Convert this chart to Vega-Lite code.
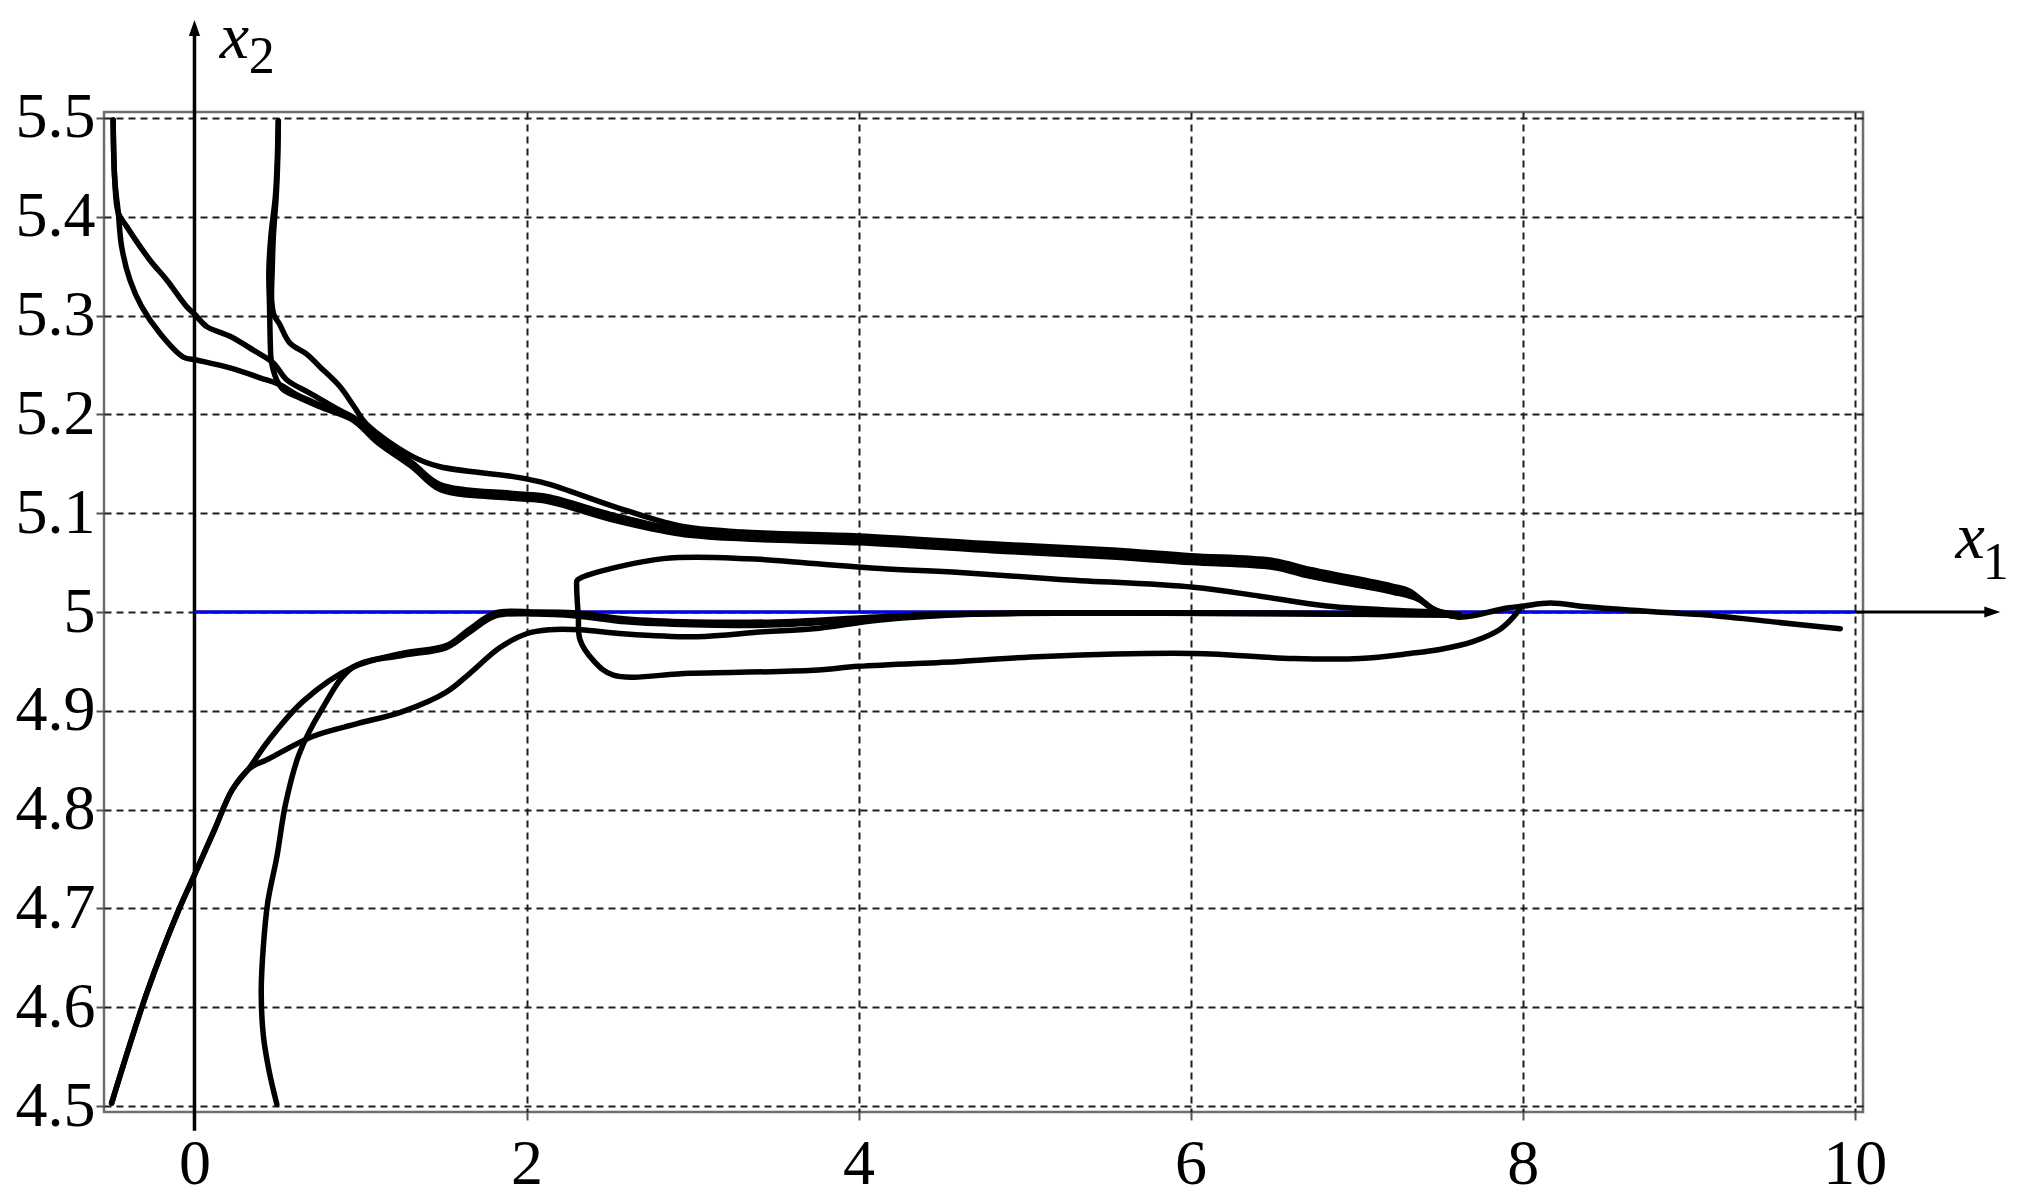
{
  "$schema": "https://vega.github.io/schema/vega-lite/v6.json",
  "width": 1759,
  "height": 1000,
  "autosize": {"type": "none"},
  "padding": {"left": 104, "top": 112, "right": 156, "bottom": 88},
  "background": "white",
  "config": {
    "view": {"stroke": "#6e6e6e", "strokeWidth": 2.5},
    "axis": {"title": null}
  },
  "datasets": {
    "curves": [
      {"id":"T1a","o":1,"x":-0.49,"y":5.498},{"id":"T1a","o":2,"x":-0.48,"y":5.437},{"id":"T1a","o":3,"x":-0.459,"y":5.404},{"id":"T1a","o":4,"x":-0.408,"y":5.39},{"id":"T1a","o":5,"x":-0.268,"y":5.356},{"id":"T1a","o":6,"x":-0.167,"y":5.336},{"id":"T1a","o":7,"x":-0.047,"y":5.309},{"id":"T1a","o":8,"x":0.003,"y":5.301},{"id":"T1a","o":9,"x":0.073,"y":5.289},{"id":"T1a","o":10,"x":0.214,"y":5.279},{"id":"T1a","o":11,"x":0.354,"y":5.265},{"id":"T1a","o":12,"x":0.475,"y":5.252},{"id":"T1a","o":13,"x":0.555,"y":5.235},{"id":"T1a","o":14,"x":0.7,"y":5.221},{"id":"T1a","o":15,"x":0.877,"y":5.204},{"id":"T1a","o":16,"x":0.957,"y":5.197},{"id":"T1a","o":17,"x":1.1,"y":5.177},{"id":"T1a","o":18,"x":1.318,"y":5.15},{"id":"T1a","o":19,"x":1.479,"y":5.129},{"id":"T1a","o":20,"x":1.92,"y":5.12},{"id":"T1a","o":21,"x":2.122,"y":5.117},{"id":"T1a","o":22,"x":2.523,"y":5.098},{"id":"T1a","o":23,"x":2.925,"y":5.083},{"id":"T1a","o":24,"x":3.3,"y":5.078},{"id":"T1a","o":25,"x":4.0,"y":5.074},{"id":"T1a","o":26,"x":4.8,"y":5.066},{"id":"T1a","o":27,"x":5.5,"y":5.06},{"id":"T1a","o":28,"x":6.0,"y":5.054},{"id":"T1a","o":29,"x":6.5,"y":5.049},{"id":"T1a","o":30,"x":6.72,"y":5.04},{"id":"T1a","o":31,"x":7.22,"y":5.023},{"id":"T1a","o":32,"x":7.34,"y":5.018},{"id":"T1a","o":33,"x":7.47,"y":5.002},{"id":"T1a","o":34,"x":7.62,"y":4.995},{"id":"T1a","o":35,"x":7.905,"y":5.004},{"id":"T1a","o":36,"x":8.005,"y":5.006},{"id":"T1a","o":37,"x":8.166,"y":5.009},{"id":"T1a","o":38,"x":8.407,"y":5.005},{"id":"T1a","o":39,"x":8.808,"y":5.0},{"id":"T1a","o":40,"x":9.11,"y":4.997},{"id":"T1a","o":41,"x":9.51,"y":4.99},{"id":"T1a","o":42,"x":9.913,"y":4.983},

      {"id":"T1b","o":1,"x":-0.49,"y":5.498},{"id":"T1b","o":2,"x":-0.48,"y":5.437},{"id":"T1b","o":3,"x":-0.459,"y":5.404},{"id":"T1b","o":4,"x":-0.439,"y":5.37},{"id":"T1b","o":5,"x":-0.389,"y":5.336},{"id":"T1b","o":6,"x":-0.318,"y":5.309},{"id":"T1b","o":7,"x":-0.208,"y":5.282},{"id":"T1b","o":8,"x":-0.067,"y":5.258},{"id":"T1b","o":9,"x":0.013,"y":5.255},{"id":"T1b","o":10,"x":0.214,"y":5.247},{"id":"T1b","o":11,"x":0.395,"y":5.237},{"id":"T1b","o":12,"x":0.515,"y":5.23},{"id":"T1b","o":13,"x":0.616,"y":5.22},{"id":"T1b","o":14,"x":0.877,"y":5.201},{"id":"T1b","o":15,"x":0.957,"y":5.195},{"id":"T1b","o":16,"x":1.1,"y":5.174},{"id":"T1b","o":17,"x":1.318,"y":5.147},{"id":"T1b","o":18,"x":1.479,"y":5.126},{"id":"T1b","o":19,"x":1.92,"y":5.117},{"id":"T1b","o":20,"x":2.122,"y":5.114},{"id":"T1b","o":21,"x":2.523,"y":5.095},{"id":"T1b","o":22,"x":2.925,"y":5.08},{"id":"T1b","o":23,"x":3.3,"y":5.075},{"id":"T1b","o":24,"x":4.0,"y":5.071},{"id":"T1b","o":25,"x":4.8,"y":5.063},{"id":"T1b","o":26,"x":5.5,"y":5.057},{"id":"T1b","o":27,"x":6.0,"y":5.051},{"id":"T1b","o":28,"x":6.5,"y":5.046},{"id":"T1b","o":29,"x":6.72,"y":5.037},{"id":"T1b","o":30,"x":7.22,"y":5.021},{"id":"T1b","o":31,"x":7.36,"y":5.015},{"id":"T1b","o":32,"x":7.49,"y":5.0},{"id":"T1b","o":33,"x":7.62,"y":4.995},

      {"id":"T2a","o":1,"x":0.505,"y":5.497},{"id":"T2a","o":2,"x":0.497,"y":5.45},{"id":"T2a","o":3,"x":0.487,"y":5.42},{"id":"T2a","o":4,"x":0.46,"y":5.38},{"id":"T2a","o":5,"x":0.448,"y":5.345},{"id":"T2a","o":6,"x":0.452,"y":5.31},{"id":"T2a","o":7,"x":0.457,"y":5.27},{"id":"T2a","o":8,"x":0.462,"y":5.255},{"id":"T2a","o":9,"x":0.495,"y":5.235},{"id":"T2a","o":10,"x":0.535,"y":5.225},{"id":"T2a","o":11,"x":0.616,"y":5.218},{"id":"T2a","o":12,"x":0.75,"y":5.208},{"id":"T2a","o":13,"x":0.957,"y":5.194},{"id":"T2a","o":14,"x":1.1,"y":5.172},{"id":"T2a","o":15,"x":1.318,"y":5.146},{"id":"T2a","o":16,"x":1.479,"y":5.124},{"id":"T2a","o":17,"x":1.92,"y":5.115},{"id":"T2a","o":18,"x":2.122,"y":5.112},{"id":"T2a","o":19,"x":2.523,"y":5.093},{"id":"T2a","o":20,"x":2.925,"y":5.079},{"id":"T2a","o":21,"x":3.3,"y":5.074},{"id":"T2a","o":22,"x":4.0,"y":5.07},{"id":"T2a","o":23,"x":4.8,"y":5.062},{"id":"T2a","o":24,"x":5.5,"y":5.056},{"id":"T2a","o":25,"x":6.0,"y":5.05},{"id":"T2a","o":26,"x":6.5,"y":5.045},{"id":"T2a","o":27,"x":6.72,"y":5.036},{"id":"T2a","o":28,"x":7.22,"y":5.02},{"id":"T2a","o":29,"x":7.37,"y":5.013},{"id":"T2a","o":30,"x":7.5,"y":4.999},{"id":"T2a","o":31,"x":7.62,"y":4.995},

      {"id":"T2b","o":1,"x":0.505,"y":5.497},{"id":"T2b","o":2,"x":0.5,"y":5.45},{"id":"T2b","o":3,"x":0.492,"y":5.42},{"id":"T2b","o":4,"x":0.475,"y":5.38},{"id":"T2b","o":5,"x":0.468,"y":5.345},{"id":"T2b","o":6,"x":0.465,"y":5.315},{"id":"T2b","o":7,"x":0.48,"y":5.3},{"id":"T2b","o":8,"x":0.51,"y":5.292},{"id":"T2b","o":9,"x":0.575,"y":5.272},{"id":"T2b","o":10,"x":0.676,"y":5.261},{"id":"T2b","o":11,"x":0.756,"y":5.248},{"id":"T2b","o":12,"x":0.877,"y":5.228},{"id":"T2b","o":13,"x":0.957,"y":5.209},{"id":"T2b","o":14,"x":1.037,"y":5.19},{"id":"T2b","o":15,"x":1.318,"y":5.157},{"id":"T2b","o":16,"x":1.479,"y":5.147},{"id":"T2b","o":17,"x":1.92,"y":5.137},{"id":"T2b","o":18,"x":2.122,"y":5.13},{"id":"T2b","o":19,"x":2.523,"y":5.107},{"id":"T2b","o":20,"x":2.925,"y":5.087},{"id":"T2b","o":21,"x":3.3,"y":5.081},{"id":"T2b","o":22,"x":4.0,"y":5.077},{"id":"T2b","o":23,"x":4.8,"y":5.069},{"id":"T2b","o":24,"x":5.5,"y":5.063},{"id":"T2b","o":25,"x":6.0,"y":5.057},{"id":"T2b","o":26,"x":6.5,"y":5.052},{"id":"T2b","o":27,"x":6.72,"y":5.043},{"id":"T2b","o":28,"x":7.22,"y":5.026},{"id":"T2b","o":29,"x":7.32,"y":5.021},{"id":"T2b","o":30,"x":7.45,"y":5.004},{"id":"T2b","o":31,"x":7.62,"y":4.995},

      {"id":"L","o":1,"x":7.985,"y":5.004},{"id":"L","o":2,"x":7.945,"y":4.995},{"id":"L","o":3,"x":7.86,"y":4.982},{"id":"L","o":4,"x":7.7,"y":4.97},{"id":"L","o":5,"x":7.5,"y":4.962},{"id":"L","o":6,"x":7.322,"y":4.958},{"id":"L","o":7,"x":7.021,"y":4.953},{"id":"L","o":8,"x":6.619,"y":4.953},{"id":"L","o":9,"x":6.017,"y":4.958},{"id":"L","o":10,"x":5.113,"y":4.955},{"id":"L","o":11,"x":4.611,"y":4.95},{"id":"L","o":12,"x":4.0,"y":4.945},{"id":"L","o":13,"x":3.728,"y":4.941},{"id":"L","o":14,"x":2.985,"y":4.938},{"id":"L","o":15,"x":2.523,"y":4.936},{"id":"L","o":16,"x":2.402,"y":4.951},{"id":"L","o":17,"x":2.322,"y":4.972},{"id":"L","o":18,"x":2.312,"y":4.995},{"id":"L","o":19,"x":2.302,"y":5.026},{"id":"L","o":20,"x":2.305,"y":5.032},{"id":"L","o":21,"x":2.363,"y":5.037},{"id":"L","o":22,"x":2.824,"y":5.054},{"id":"L","o":23,"x":3.327,"y":5.054},{"id":"L","o":24,"x":3.728,"y":5.049},{"id":"L","o":25,"x":4.13,"y":5.044},{"id":"L","o":26,"x":4.611,"y":5.04},{"id":"L","o":27,"x":5.214,"y":5.033},{"id":"L","o":28,"x":6.017,"y":5.025},{"id":"L","o":29,"x":6.418,"y":5.016},{"id":"L","o":30,"x":6.82,"y":5.006},{"id":"L","o":31,"x":7.32,"y":5.001},{"id":"L","o":32,"x":7.5,"y":5.0},{"id":"L","o":33,"x":7.62,"y":4.997},

      {"id":"Clow","o":1,"x":-0.499,"y":4.503},{"id":"Clow","o":2,"x":-0.284,"y":4.616},{"id":"Clow","o":3,"x":-0.096,"y":4.698},{"id":"Clow","o":4,"x":0.0,"y":4.734},{"id":"Clow","o":5,"x":0.119,"y":4.779},{"id":"Clow","o":6,"x":0.227,"y":4.82},{"id":"Clow","o":7,"x":0.334,"y":4.842},{"id":"Clow","o":8,"x":0.442,"y":4.851},{"id":"Clow","o":9,"x":0.711,"y":4.874},{"id":"Clow","o":10,"x":0.98,"y":4.887},{"id":"Clow","o":11,"x":1.249,"y":4.899},{"id":"Clow","o":12,"x":1.517,"y":4.919},{"id":"Clow","o":13,"x":1.652,"y":4.937},{"id":"Clow","o":14,"x":1.84,"y":4.964},{"id":"Clow","o":15,"x":2.0,"y":4.978},{"id":"Clow","o":16,"x":2.136,"y":4.982},{"id":"Clow","o":17,"x":2.325,"y":4.982},{"id":"Clow","o":18,"x":2.584,"y":4.978},{"id":"Clow","o":19,"x":3.025,"y":4.975},{"id":"Clow","o":20,"x":3.427,"y":4.98},{"id":"Clow","o":21,"x":3.728,"y":4.983},{"id":"Clow","o":22,"x":4.13,"y":4.992},{"id":"Clow","o":23,"x":4.732,"y":4.998},{"id":"Clow","o":24,"x":5.5,"y":4.999},{"id":"Clow","o":25,"x":6.5,"y":4.999},{"id":"Clow","o":26,"x":7.62,"y":4.997},

      {"id":"Cup","o":1,"x":-0.499,"y":4.503},{"id":"Cup","o":2,"x":-0.284,"y":4.616},{"id":"Cup","o":3,"x":-0.096,"y":4.698},{"id":"Cup","o":4,"x":0.0,"y":4.734},{"id":"Cup","o":5,"x":0.119,"y":4.779},{"id":"Cup","o":6,"x":0.227,"y":4.82},{"id":"Cup","o":7,"x":0.334,"y":4.843},{"id":"Cup","o":8,"x":0.442,"y":4.869},{"id":"Cup","o":9,"x":0.657,"y":4.91},{"id":"Cup","o":10,"x":0.953,"y":4.944},{"id":"Cup","o":11,"x":1.249,"y":4.958},{"id":"Cup","o":12,"x":1.517,"y":4.966},{"id":"Cup","o":13,"x":1.652,"y":4.982},{"id":"Cup","o":14,"x":1.813,"y":4.999},{"id":"Cup","o":15,"x":2.055,"y":5.0},{"id":"Cup","o":16,"x":2.3,"y":4.999},{"id":"Cup","o":17,"x":2.6,"y":4.993},{"id":"Cup","o":18,"x":3.0,"y":4.99},{"id":"Cup","o":19,"x":3.5,"y":4.99},{"id":"Cup","o":20,"x":4.0,"y":4.994},{"id":"Cup","o":21,"x":4.5,"y":4.998},{"id":"Cup","o":22,"x":5.5,"y":4.999},{"id":"Cup","o":23,"x":7.62,"y":4.997},

      {"id":"D","o":1,"x":0.496,"y":4.502},{"id":"D","o":2,"x":0.45,"y":4.535},{"id":"D","o":3,"x":0.415,"y":4.571},{"id":"D","o":4,"x":0.402,"y":4.616},{"id":"D","o":5,"x":0.415,"y":4.662},{"id":"D","o":6,"x":0.442,"y":4.707},{"id":"D","o":7,"x":0.496,"y":4.752},{"id":"D","o":8,"x":0.549,"y":4.806},{"id":"D","o":9,"x":0.63,"y":4.856},{"id":"D","o":10,"x":0.765,"y":4.901},{"id":"D","o":11,"x":0.953,"y":4.944},{"id":"D","o":12,"x":1.249,"y":4.956},{"id":"D","o":13,"x":1.517,"y":4.964},{"id":"D","o":14,"x":1.652,"y":4.979},{"id":"D","o":15,"x":1.813,"y":4.996},{"id":"D","o":16,"x":2.055,"y":4.998},{"id":"D","o":17,"x":2.3,"y":4.996},{"id":"D","o":18,"x":2.6,"y":4.99},{"id":"D","o":19,"x":3.0,"y":4.987},{"id":"D","o":20,"x":3.5,"y":4.987},{"id":"D","o":21,"x":4.0,"y":4.992},{"id":"D","o":22,"x":4.5,"y":4.997},{"id":"D","o":23,"x":5.5,"y":4.999},{"id":"D","o":24,"x":7.62,"y":4.997}
    ]
  },
  "layer": [
    {
      "data": {"name": "curves"},
      "mark": {"type": "line", "opacity": 0},
      "encoding": {
        "x": {"field": "x", "type": "quantitative", "title": null,
          "scale": {"domain": [-0.545, 10.05], "nice": false, "zero": false},
          "axis": {"values": [0, 2, 4, 6, 8, 10], "grid": true, "gridDash": [7, 5], "gridColor": "#1e1e1e", "gridWidth": 2, "gridOpacity": 1,
            "domain": false, "ticks": true, "tickSize": 8, "tickColor": "#555555", "tickWidth": 2,
            "labelFont": "Liberation Serif", "labelFontSize": 64, "labelColor": "#000000", "labelPadding": 12,
            "labelFlush": false, "labelOverlap": false, "labelBound": false, "format": "d"}},
        "y": {"field": "y", "type": "quantitative", "title": null,
          "scale": {"domain": [4.494, 5.506], "nice": false, "zero": false},
          "axis": {"values": [4.5, 4.6, 4.7, 4.8, 4.9, 5, 5.1, 5.2, 5.3, 5.4, 5.5], "grid": true, "gridDash": [7, 5], "gridColor": "#1e1e1e", "gridWidth": 2, "gridOpacity": 1,
            "domain": false, "ticks": true, "tickSize": 8, "tickColor": "#555555", "tickWidth": 2,
            "labelFont": "Liberation Serif", "labelFontSize": 64, "labelColor": "#000000", "labelPadding": 1,
            "labelFlush": false, "labelOverlap": false, "labelBound": false, "format": ".1~f"}},
        "detail": {"field": "id"},
        "order": {"field": "o", "type": "quantitative"}
      }
    },
    {
      "data": {"values": [{"xa": 0, "xb": 10.8, "ya": 5}]},
      "mark": {"type": "rule", "color": "#000000", "strokeWidth": 3},
      "encoding": {
        "x": {"field": "xa", "type": "quantitative", "title": null},
        "x2": {"field": "xb"},
        "y": {"field": "ya", "type": "quantitative", "title": null}
      }
    },
    {
      "data": {"values": [{"xa": 0, "ya": 4.475, "yb": 5.584}]},
      "mark": {"type": "rule", "color": "#000000", "strokeWidth": 3.5},
      "encoding": {
        "x": {"field": "xa", "type": "quantitative", "title": null},
        "y": {"field": "ya", "type": "quantitative", "title": null},
        "y2": {"field": "yb"}
      }
    },
    {
      "data": {"values": [{"xa": 0, "xb": 10, "ya": 5}]},
      "mark": {"type": "rule", "color": "#0000ff", "strokeWidth": 3},
      "encoding": {
        "x": {"field": "xa", "type": "quantitative", "title": null},
        "x2": {"field": "xb"},
        "y": {"field": "ya", "type": "quantitative", "title": null}
      }
    },
    {
      "data": {"values": [{"xa": 10.877, "ya": 5}]},
      "mark": {"type": "point", "shape": "M 0 0 L -2 -0.7 L -2 0.7 Z", "size": 256, "filled": true, "color": "#000000", "opacity": 1},
      "encoding": {
        "x": {"field": "xa", "type": "quantitative", "title": null},
        "y": {"field": "ya", "type": "quantitative", "title": null}
      }
    },
    {
      "data": {"values": [{"xa": 0, "ya": 5.599}]},
      "mark": {"type": "point", "shape": "M 0 0 L -0.7 2 L 0.7 2 Z", "size": 256, "filled": true, "color": "#000000", "opacity": 1},
      "encoding": {
        "x": {"field": "xa", "type": "quantitative", "title": null},
        "y": {"field": "ya", "type": "quantitative", "title": null}
      }
    },
    {
      "data": {"name": "curves"},
      "mark": {"type": "line", "color": "#000000", "strokeWidth": 5.5, "strokeCap": "round", "strokeJoin": "round", "interpolate": "catmull-rom"},
      "encoding": {
        "x": {"field": "x", "type": "quantitative", "title": null},
        "y": {"field": "y", "type": "quantitative", "title": null},
        "detail": {"field": "id"},
        "order": {"field": "o", "type": "quantitative"}
      }
    },
    {
      "data": {"values": [{"t": "x", "xa": 0.241, "ya": 5.561}, {"t": "x", "xa": 10.696, "ya": 5.0547}]},
      "mark": {"type": "text", "font": "Liberation Serif", "fontStyle": "italic", "fontSize": 66, "align": "center", "baseline": "alphabetic", "color": "#000000"},
      "encoding": {
        "x": {"field": "xa", "type": "quantitative", "title": null},
        "y": {"field": "ya", "type": "quantitative", "title": null},
        "text": {"field": "t"}
      }
    },
    {
      "data": {"values": [{"t": "2", "xa": 0.405, "ya": 5.545}, {"t": "1", "xa": 10.85, "ya": 5.0334}]},
      "mark": {"type": "text", "font": "Liberation Serif", "fontSize": 52, "align": "center", "baseline": "alphabetic", "color": "#000000"},
      "encoding": {
        "x": {"field": "xa", "type": "quantitative", "title": null},
        "y": {"field": "ya", "type": "quantitative", "title": null},
        "text": {"field": "t"}
      }
    }
  ]
}
